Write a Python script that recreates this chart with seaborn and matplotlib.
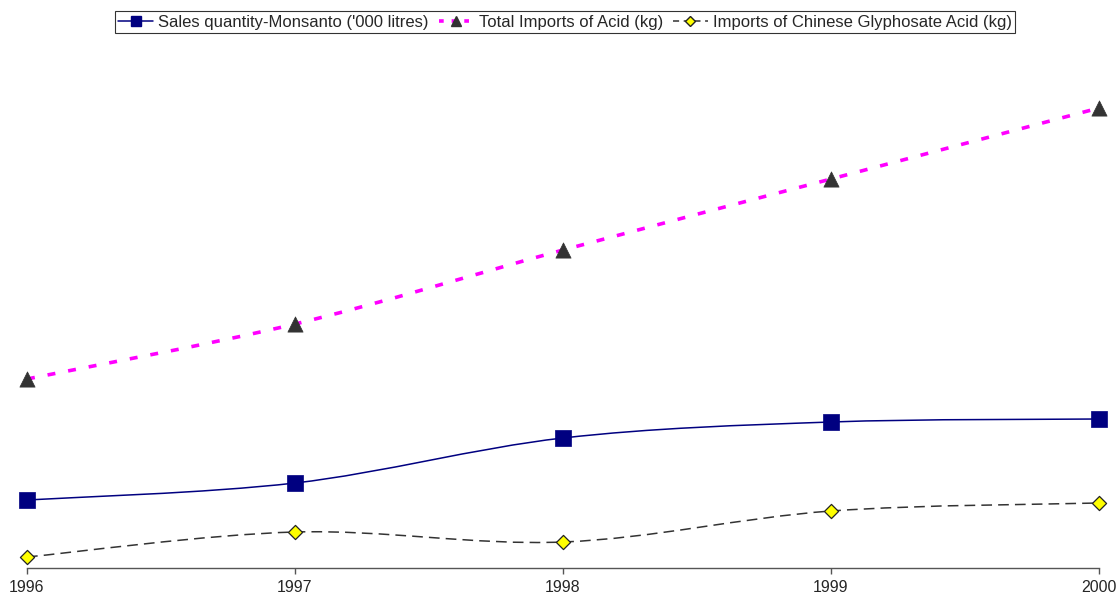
import numpy as np
import pandas as pd
import matplotlib
matplotlib.use('Agg')
import matplotlib.pyplot as plt
from matplotlib.path import Path
from matplotlib.patches import PathPatch
from matplotlib.lines import Line2D
import seaborn as sns

# Values (arbitrary units, no y scale shown)
years = [1996, 1997, 1998, 1999, 2000]
sales_monsanto = [68, 85, 130, 146, 149]
total_imports = [189, 244, 318, 389, 460]
chinese_imports = [11, 36, 26, 57, 65]

labels = ["Sales quantity-Monsanto ('000 litres)",
          "Total Imports of Acid (kg)",
          "Imports of Chinese Glyphosate Acid (kg)"]

sns.set_style('white')
plt.rcParams['font.family'] = ['Liberation Sans', 'DejaVu Sans']

fig = plt.figure(figsize=(11.17, 5.96), dpi=100)
ax = fig.add_axes([27 / 1117, 28 / 596, (1099 - 27) / 1117, (568 - 45) / 596])


def smooth_path(xs, ys):
    # Excel-style smoothed line: cubic bezier segments through the data points
    pts = np.column_stack([xs, ys]).astype(float)
    padded = np.vstack([pts[0], pts, pts[-1]])
    verts = [pts[0]]
    codes = [Path.MOVETO]
    for i in range(len(pts) - 1):
        p0, p1, p2, p3 = padded[i], padded[i + 1], padded[i + 2], padded[i + 3]
        c1 = p1 + (p2 - p0) / 6
        c2 = p2 - (p3 - p1) / 6
        verts += [c1, c2, p2]
        codes += [Path.CURVE4] * 3
    return Path(verts, codes)


# smoothed lines
ax.add_patch(PathPatch(smooth_path(years, total_imports), fill=False,
                       edgecolor='#FF00FF', lw=2.6, linestyle=(0, (2.2, 3.6)), zorder=2))
ax.add_patch(PathPatch(smooth_path(years, sales_monsanto), fill=False,
                       edgecolor='#000080', lw=1.1, zorder=2))
ax.add_patch(PathPatch(smooth_path(years, chinese_imports), fill=False,
                       edgecolor='#333333', lw=1.1, linestyle=(0, (7, 4)), zorder=2))

# markers
sns.scatterplot(x=years, y=total_imports, marker='^', s=120, color='#333333',
                edgecolor='#333333', linewidth=0.5, ax=ax, zorder=3, clip_on=False)
sns.scatterplot(x=years, y=sales_monsanto, marker='s', s=120, color='#000080',
                edgecolor='#000080', linewidth=0.5, ax=ax, zorder=3, clip_on=False)
sns.scatterplot(x=years, y=chinese_imports, marker='D', s=52, color='#FFFF00',
                edgecolor='#222222', linewidth=0.9, ax=ax, zorder=3, clip_on=False)

ax.set_xlim(1996, 2000)
ax.set_ylim(0, 523)
ax.set_xticks(years)
ax.set_xticklabels([str(y) for y in years], fontsize=11.5)
ax.set_yticks([])
for side in ['top', 'left', 'right']:
    ax.spines[side].set_visible(False)
ax.spines['bottom'].set_color('#555555')
ax.spines['bottom'].set_linewidth(1.0)
ax.tick_params(axis='x', direction='out', length=4, width=1, color='#555555',
               pad=5, bottom=True)
ax.set_xlabel('')
ax.set_ylabel('')

handles = [
    Line2D([], [], color='#000080', lw=1.1, marker='s', markersize=7,
           markerfacecolor='#000080', markeredgecolor='#000080'),
    Line2D([], [], color='#FF00FF', lw=2.6, linestyle=(0, (1.3, 2.2)), marker='^',
           markersize=7, markerfacecolor='#333333', markeredgecolor='#333333'),
    Line2D([], [], color='#333333', lw=1.1, linestyle=(0, (4, 3)), marker='D',
           markersize=5, markerfacecolor='#FFFF00', markeredgecolor='#222222'),
]
leg = fig.legend(handles, labels, loc='center', bbox_to_anchor=(565 / 1117, 1 - 22 / 596),
                 ncol=3, fontsize=12, frameon=True, fancybox=False, handlelength=2.1,
                 handletextpad=0.3, columnspacing=0.6, borderpad=0.2, borderaxespad=0)
leg.get_frame().set_edgecolor('black')
leg.get_frame().set_linewidth(0.8)

fig.savefig('out.png', dpi=100)
